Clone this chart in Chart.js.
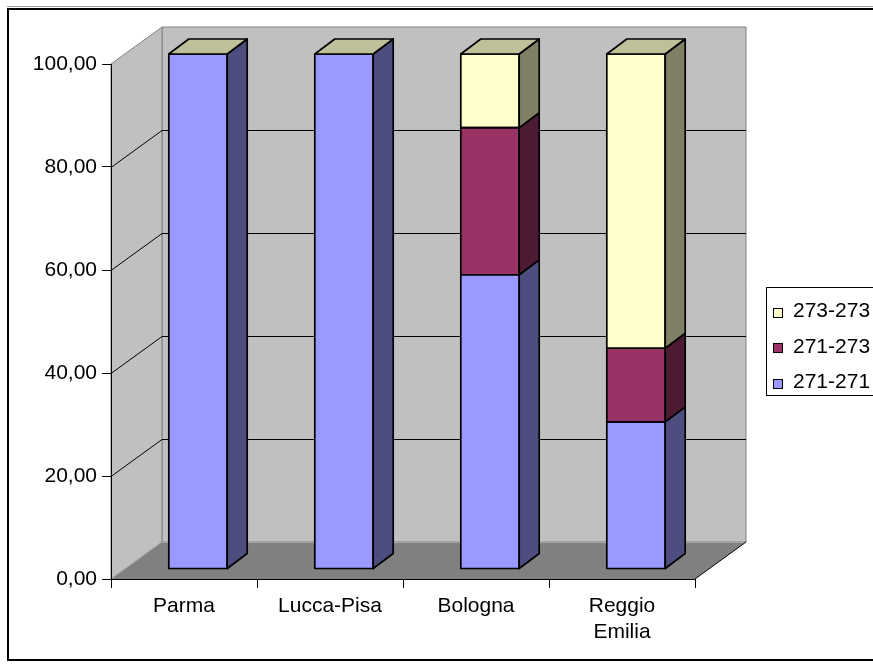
<!DOCTYPE html>
<html>
<head>
<meta charset="utf-8">
<script src="https://cdn.jsdelivr.net/npm/chart.js@4.4.1/dist/chart.umd.min.js"></script>
<style>
  html, body { margin: 0; padding: 0; background: #fff; }
  canvas { display: block; }
</style>
</head>
<body>
<canvas id="chart" width="873" height="669"></canvas>
<script>
// Share of each genotype per population (percent, stacked to 100)
const categories = ['Parma', 'Lucca-Pisa', 'Bologna', ['Reggio', 'Emilia']];
const seriesNames = ['271-271', '271-273', '273-273'];
const values271_271 = [100, 100, 57.14, 28.57];
const values271_273 = [0, 0, 28.57, 14.29];
const values273_273 = [0, 0, 14.29, 57.14];
const yTickValues = [0, 20, 40, 60, 80, 100];

const seriesColors = ['#9999FF', '#993366', '#FFFFCC'];
const FONT = "'Liberation Sans', Arial, sans-serif";

// Oblique projection used for the walls, floor and bar depth
const DEPTH = { x: 51, y: -37 };      // full depth of the plot box
const BAR_SHIFT = { x: 14, y: -10 };  // bars stand this far behind the front plane
const BAR_DEPTH = { x: 20, y: -15 };  // thickness of each bar
const EDGE = 1.7;                     // outline width of the bar faces

function shade(hex, f) {
  const n = parseInt(hex.slice(1), 16);
  const r = Math.round(((n >> 16) & 255) * f);
  const g = Math.round(((n >> 8) & 255) * f);
  const b = Math.round((n & 255) * f);
  return `rgb(${r},${g},${b})`;
}

function poly(ctx, pts, fill, stroke, lw) {
  ctx.beginPath();
  ctx.moveTo(pts[0][0], pts[0][1]);
  for (let i = 1; i < pts.length; i++) ctx.lineTo(pts[i][0], pts[i][1]);
  ctx.closePath();
  if (fill) { ctx.fillStyle = fill; ctx.fill(); }
  if (stroke) { ctx.strokeStyle = stroke; ctx.lineWidth = lw || 1; ctx.stroke(); }
}

function seg(ctx, x1, y1, x2, y2, color) {
  ctx.beginPath();
  ctx.moveTo(x1, y1);
  ctx.lineTo(x2, y2);
  ctx.strokeStyle = color;
  ctx.lineWidth = 1;
  ctx.stroke();
}

// Walls, floor and back gridlines, drawn before the axes; bar depth after the bars
const box3d = {
  id: 'box3d',
  beforeDraw(chart) {
    const { ctx, scales: { x, y } } = chart;
    const L = x.left, R = x.right;
    const yb = y.getPixelForValue(y.min);
    const yt = y.getPixelForValue(y.max);
    const dx = DEPTH.x, dy = DEPTH.y;
    ctx.save();
    poly(ctx, [[L + dx, yt + dy], [R + dx, yt + dy], [R + dx, yb + dy], [L + dx, yb + dy]], '#C0C0C0', '#808080');
    poly(ctx, [[L, yt], [L + dx, yt + dy], [L + dx, yb + dy], [L, yb]], '#C0C0C0', '#808080');
    poly(ctx, [[L, yb], [L + dx, yb + dy], [R + dx, yb + dy], [R, yb]], '#808080', null);
    seg(ctx, L, yb, L + dx, yb + dy, '#A6A6A6');
    seg(ctx, L + dx, yb + dy + 0.5, R + dx, yb + dy + 0.5, '#A6A6A6');
    seg(ctx, R, yb, R + dx, yb + dy, '#000');
    y.ticks.forEach(t => {
      if (t.value <= y.min || t.value >= y.max) return;
      const py = Math.round(y.getPixelForValue(t.value)) + 0.5;
      seg(ctx, L + dx, py + dy, R + dx, py + dy, '#000');
      seg(ctx, L, py, L + dx, py + dy, '#000');
    });
    ctx.restore();
  },
  beforeDatasetsDraw(chart) {
    chart.ctx.save();
    chart.ctx.translate(BAR_SHIFT.x, BAR_SHIFT.y);
  },
  afterDatasetsDraw(chart) {
    const ctx = chart.ctx;
    const metas = chart.data.datasets.map((d, i) => chart.getDatasetMeta(i));
    const n = chart.data.labels.length;
    const bx = BAR_DEPTH.x, by = BAR_DEPTH.y;
    ctx.lineJoin = 'round';
    for (let i = 0; i < n; i++) {
      metas.forEach((meta, k) => {
        const p = meta.data[i].getProps(['x', 'y', 'base', 'width'], true);
        const top = Math.min(p.y, p.base), bot = Math.max(p.y, p.base);
        if (bot - top < 0.5) return;
        const xl = p.x - p.width / 2, xr = p.x + p.width / 2;
        // front outline
        poly(ctx, [[xl, top], [xr, top], [xr, bot], [xl, bot]], null, '#000', EDGE);
        // right side
        poly(ctx, [[xr, top], [xr + bx, top + by], [xr + bx, bot + by], [xr, bot]],
          shade(seriesColors[k], 0.5), '#000', EDGE);
      });
      // the top face takes the colour of the last series in the stack
      const last = metas[metas.length - 1].data[i].getProps(['x', 'y', 'width'], true);
      const xl = last.x - last.width / 2, xr = last.x + last.width / 2, t = last.y;
      poly(ctx, [[xl, t], [xl + bx, t + by], [xr + bx, t + by], [xr, t]],
        shade(seriesColors[seriesColors.length - 1], 0.75), '#000', EDGE);
    }
    ctx.restore();
  },
  afterDraw(chart) {
    const ctx = chart.ctx;
    ctx.save();
    // outer frame
    seg(ctx, 7, 6.5, 873, 6.5, '#A0A0A0');
    ctx.strokeStyle = '#000';
    ctx.lineWidth = 2;
    ctx.strokeRect(8, 9, 900, 651);
    // legend, last series on top
    ctx.lineWidth = 1;
    ctx.strokeRect(766.5, 287.5, 140, 108);
    ctx.font = `21px ${FONT}`;
    ctx.textBaseline = 'middle';
    ctx.textAlign = 'left';
    const ds = chart.data.datasets;
    for (let j = 0; j < ds.length; j++) {
      const k = ds.length - 1 - j;
      const yc = 311.5 + j * 35.5;
      const sy = Math.round(yc - 4) + 0.5;
      ctx.fillStyle = ds[k].backgroundColor;
      ctx.fillRect(773.5, sy, 9, 9);
      ctx.strokeStyle = '#000';
      ctx.strokeRect(773.5, sy, 9, 9);
      ctx.fillStyle = '#000';
      ctx.fillText(ds[k].label, 793, yc);
    }
    ctx.restore();
  }
};

const seriesValues = [values271_271, values271_273, values273_273];

new Chart(document.getElementById('chart'), {
  type: 'bar',
  data: {
    labels: categories,
    datasets: seriesValues.map((vals, k) => ({
      label: seriesNames[k],
      data: vals,
      backgroundColor: seriesColors[k],
      borderWidth: 0,
      clip: false
    }))
  },
  options: {
    responsive: false,
    animation: false,
    events: [],
    layout: { padding: { left: 0, right: 178, top: 64, bottom: 0 } },
    datasets: { bar: { categoryPercentage: 1, barPercentage: 0.4 } },
    plugins: { legend: { display: false }, tooltip: { enabled: false } },
    scales: {
      x: {
        stacked: true,
        grid: { offset: true, drawOnChartArea: false, drawTicks: true, tickLength: 9, color: '#000' },
        border: { display: true, color: '#000', width: 1 },
        ticks: { font: { family: FONT, size: 21 }, color: '#000', padding: 6, maxRotation: 0, autoSkip: false },
        afterFit(s) { s.height = 90; }
      },
      y: {
        stacked: true,
        min: 0,
        max: 100,
        grid: { drawOnChartArea: false, drawTicks: true, tickLength: 9, color: '#000' },
        border: { display: true, color: '#000', width: 1 },
        ticks: {
          font: { family: FONT, size: 21 },
          color: '#000',
          padding: 5,
          callback: v => v.toFixed(2).replace('.', ',')
        },
        afterBuildTicks(s) { s.ticks = yTickValues.map(v => ({ value: v })); },
        afterFit(s) { s.width = 111; }
      }
    }
  },
  plugins: [box3d]
});
</script>
</body>
</html>
